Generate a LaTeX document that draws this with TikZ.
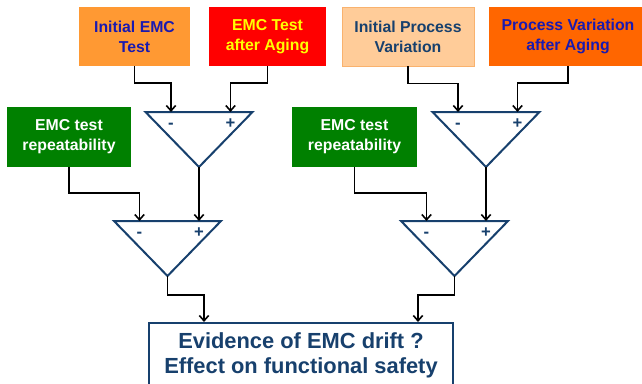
\documentclass[tikz,border=0pt]{standalone}
\usepackage{fontspec}
\setmainfont{Liberation Sans}
\usetikzlibrary{arrows.meta,positioning}
\definecolor{emcorange}{HTML}{FF9933}
\definecolor{emcred}{HTML}{FF0000}
\definecolor{emcyellow}{HTML}{FFFF00}
\definecolor{peach}{HTML}{FFCC99}
\definecolor{peachline}{HTML}{F9B26E}
\definecolor{deeporange}{HTML}{FF6600}
\definecolor{emcgreen}{HTML}{008000}
\definecolor{navy}{HTML}{17406D}
\definecolor{textblue}{HTML}{1A1AB0}
\newcommand{\pxu}{0.75pt}
\tikzset{
  box/.style={inner sep=0pt, align=center, minimum height=59*\pxu,
    font=\fontsize{11.85}{15}\selectfont\bfseries},
  repbox/.style={box, fill=emcgreen, text=white, minimum height=60*\pxu},
  arr/.style={draw=black, line width=1.3pt, -{Straight Barb[length=4pt,width=7pt,line width=1.2pt]}},
  sign/.style={inner sep=0pt, anchor=base, text=navy, font=\fontsize{12.5}{15}\selectfont\bfseries},
  cmp/.pic={
    \draw[navy, line width=1.5pt, line join=miter] (-53.5,0) -- (53.5,0) -- (0,55) -- cycle;
    \coordinate (-minus) at (-28,0);
    \coordinate (-plus) at (31.5,0);
    \coordinate (-out) at (0,55);
    \node[sign] at (-28,16) {-};
    \node[sign] at (31.5,16) {+};
  }
}
\begin{document}
\begin{tikzpicture}[x=\pxu, y=-\pxu]
  \useasboundingbox (0,0) rectangle (642,383);
  \node[box, fill=emcorange, text=textblue, minimum width=111*\pxu] (initEMC) at (134.5,36.5) {Initial EMC\\Test};
  \node[box, fill=emcred, text=emcyellow, minimum width=117*\pxu] (agedEMC) at (267.5,36.5) {EMC Test\\after Aging};
  \node[box, fill=peach, draw=peachline, line width=0.6pt, text=navy, minimum width=132*\pxu] (initProc) at (408,36.5) {Initial Process\\Variation};
  \node[box, fill=deeporange, text=textblue, minimum width=158*\pxu] (agedProc) at (568,36.5) {Process Variation\\after Aging};
  \node[repbox, minimum width=124*\pxu] (repEMC) at (69,137) {EMC test\\repeatability};
  \node[repbox, minimum width=125*\pxu] (repProc) at (354.5,137) {EMC test\\repeatability};
  \node[box, draw=navy, line width=1.5pt, fill=white, text=navy, minimum width=304*\pxu, minimum height=65*\pxu,
    font=\fontsize{16.4}{18.75}\selectfont\bfseries] (evidence) at (301,355.5) {Evidence of EMC drift ?\\Effect on functional safety};
  \pic (cmpA) at (199,112) {cmp};
  \pic (cmpB) at (486,112) {cmp};
  \pic (cmpC) at (167.5,221) {cmp};
  \pic (cmpD) at (454.5,221) {cmp};
  \draw[arr] (initEMC.south) -- ++(0,17) -| (cmpA-minus);
  \draw[arr] (agedEMC.south) -- ++(0,17) -| (cmpA-plus);
  \draw[arr] (initProc.south) -- ++(0,17) -| (cmpB-minus);
  \draw[arr] (agedProc.south) -- ++(0,17) -| (cmpB-plus);
  \draw[arr] (repEMC.south) -- ++(0,26) -| (cmpC-minus);
  \draw[arr] (repProc.south) -- ++(0,26) -| (cmpD-minus);
  \draw[arr] (cmpA-out) -- (cmpC-plus);
  \draw[arr] (cmpB-out) -- (cmpD-plus);
  \draw[arr] (cmpC-out) -- ++(0,19) -| ([xshift=56*\pxu]evidence.north west);
  \draw[arr] (cmpD-out) -- ++(0,19) -| ([xshift=-36*\pxu]evidence.north east);
\end{tikzpicture}
\end{document}
